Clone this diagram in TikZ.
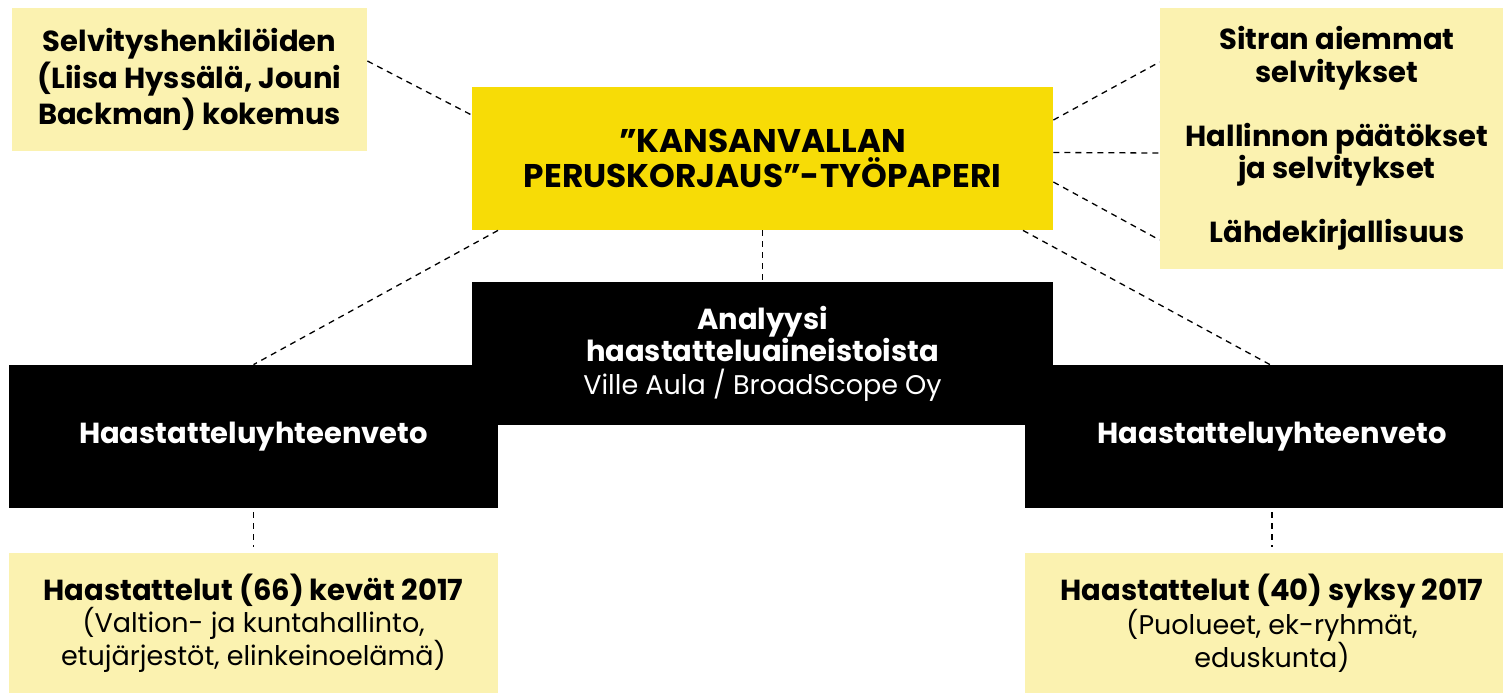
\documentclass[tikz,border=0pt]{standalone}
\usepackage{fontspec}
\setmainfont{Poppins}
\usepackage{tikz}
\usetikzlibrary{positioning}

\newcommand{\lite}{\fontsize{13.5}{16.25}\selectfont\mdseries}

\begin{document}
\begin{tikzpicture}[x=0.5pt,y=-0.5pt,
    textbox/.style={rectangle,inner sep=0pt,align=center,font=\fontsize{14.5}{16.25}\selectfont\bfseries},
    srcbox/.style={textbox,fill={rgb,255:red,251; green,242; blue,176}},
    keybox/.style={textbox,fill={rgb,255:red,247; green,220; blue,6},minimum width=290.5pt,minimum height=71.5pt,font=\fontsize{16.4}{17.5}\selectfont\bfseries},
    darkbox/.style={textbox,fill=black,text=white,minimum height=71.5pt},
    link/.style={black,line width=0.65pt,dash pattern=on 3pt off 2.5pt},
   ]
    \clip (0,0) rectangle (1503,693);

    \node (srcL)  [srcbox,minimum width=177.5pt,minimum height=71.5pt] at (189.5,79.5)
        {Selvityshenkilöiden\\(Liisa Hyssälä, Jouni\\Backman) kokemus};
    \node (paper) [keybox] at (762.5,158.5) {"KANSANVALLAN\\PERUSKORJAUS"-TYÖPAPERI};
    \node (srcR)  [srcbox,minimum width=177pt,minimum height=130.5pt] at (1337,138.5)
        {Sitran aiemmat\\selvitykset\\[15.75pt]
         Hallinnon päätökset\\ja selvitykset\\[15.75pt]
         Lähdekirjallisuus};

    \node (analysis) [darkbox,minimum width=290.5pt] at (762.5,353.5)
        {Analyysi\\haastatteluaineistoista\\{\lite Ville Aula / BroadScope Oy}};
    \node (sumL) [darkbox,minimum width=244.5pt] at (253.5,436.5) {Haastatteluyhteenveto};
    \node (sumR) [darkbox,minimum width=247pt] at (1272,436.5) {Haastatteluyhteenveto};

    \node (intL) [srcbox,minimum width=244.5pt,minimum height=70pt] at (253.5,623)
        {Haastattelut (66) kevät 2017\\{\lite (Valtion- ja kuntahallinto,}\\{\lite etujärjestöt, elinkeinoelämä)}};
    \node (intR) [srcbox,minimum width=247pt,minimum height=70pt] at (1272,623)
        {Haastattelut (40) syksy 2017\\{\lite (Puolueet, ek-ryhmät,}\\{\lite eduskunta)}};

    \draw[link] ([yshift=9.25pt]srcL.east) -- ([yshift=21.75pt]paper.west);
    \draw[link] ([yshift=19.25pt]paper.east) -- ([yshift=38.25pt]srcR.west);
    \draw[link] ([yshift=3pt]paper.east) -- ([yshift=-7.25pt]srcR.west);
    \draw[link] ([yshift=-11.75pt]paper.east) -- ([yshift=-50.75pt]srcR.west);

    \draw[link] ([xshift=-132.25pt]paper.south) -- (sumL.north);
    \draw[link] (paper.south) -- (analysis.north);
    \draw[link] ([xshift=130.25pt]paper.south) -- ([xshift=-1pt]sumR.north);

    \draw[link,shorten <=2pt,shorten >=3pt] (sumL.south) -- (intL.north);
    \draw[link,shorten <=2pt,shorten >=3pt] (sumR.south) -- (intR.north);
\end{tikzpicture}
\end{document}
